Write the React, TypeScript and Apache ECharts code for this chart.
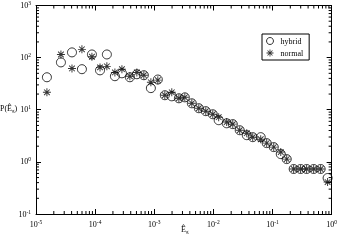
import React, { useEffect, useRef } from "react";
import * as echarts from "echarts";

const eg = [1.53e-5, 2.64e-5, 4.06e-5, 5.98e-5, 8.83e-5, 1.21e-4, 1.58e-4, 2.16e-4, 2.84e-4, 3.87e-4, 5.08e-4, 6.67e-4, 8.77e-4, 1.15e-3, 1.51e-3, 1.98e-3, 2.61e-3, 3.29e-3, 4.32e-3, 5.67e-3, 7.44e-3, 9.77e-3, 0.0123, 0.0168, 0.0213, 0.0279, 0.0367, 0.0463, 0.0632, 0.0798, 0.105, 0.138, 0.174, 0.228, 0.299, 0.378, 0.497, 0.652, 0.855];
const hybrid = [42, 81, 126, 60, 115, 57, 115, 44, 50, 42, 48, 46, 26, 38, 19, 18.1, 16.6, 17.3, 13.3, 10.7, 9.4, 8.2, 6.3, 5.5, 5.3, 4.05, 3.25, 2.98, 2.98, 2.29, 1.92, 1.41, 1.13, 0.73, 0.73, 0.73, 0.73, 0.73, 0.49];
const normal = [21.6, 115, 62, 144, 104, 65, 68, 52, 60, 44, 52, 46, 33.6, 37, 19, 21.6, 16.6, 17.3, 13.3, 10.7, 9.4, 8.2, 7.2, 5.8, 5.3, 4.05, 3.55, 2.98, 2.72, 2.29, 1.92, 1.54, 1.13, 0.73, 0.73, 0.73, 0.73, 0.73, 0.41];
const seriesNames = ["hybrid", "normal"];
const xDecades = [-5, -4, -3, -2, -1];
const yDecades = [-1, 0, 1, 2];
const minorMultipliers = [2, 3, 4, 5, 6, 7, 8, 9];

const STAR =
  "path://M-5 -0.6 H5 V0.6 H-5 Z M-0.6 -5 H0.6 V5 H-0.6 Z " +
  "M-3.12 -3.96 L3.96 3.12 L3.12 3.96 L-3.96 -3.12 Z " +
  "M-3.96 3.12 L3.12 -3.96 L3.96 -3.12 L-3.12 3.96 Z";

const FONT = "Liberation Serif";

function expLabel(v: number) {
  const e = Math.round(Math.log10(v));
  return `{b|10}{e|${e}}`;
}
const labelRich = {
  b: { fontFamily: FONT, fontSize: 8, color: "#000" },
  e: { fontFamily: FONT, fontSize: 5.5, color: "#000", padding: [0, 0, 5, 0] },
};

export default function App() {
  const ref = useRef<HTMLDivElement>(null);
  useEffect(() => {
    if (!ref.current) return;
    const chart = echarts.init(ref.current, null, { renderer: "svg" });
    const xMinor: number[][] = [];
    xDecades.forEach((d) => minorMultipliers.forEach((m) => xMinor.push([m * Math.pow(10, d), 1])));
    const yMinor: number[][] = [];
    yDecades.forEach((d) => minorMultipliers.forEach((m) => yMinor.push([1e-3, m * Math.pow(10, d)])));

    const axisLine = { lineStyle: { color: "#000", width: 1 } };
    const majorTick = { inside: true, length: 5, lineStyle: { color: "#000" } };

    chart.setOption({
      animation: false,
      grid: { left: 36, right: 8, top: 5, bottom: 27 },
      legend: {
        left: 262,
        top: 34,
        orient: "vertical",
        data: [
          { name: seriesNames[0], icon: "circle", itemStyle: { color: "rgba(0,0,0,0)", borderColor: "#000", borderWidth: 1 } },
          { name: seriesNames[1], icon: STAR, itemStyle: { color: "#000" } },
        ],
        itemWidth: 11,
        itemHeight: 7,
        itemGap: 4,
        padding: [3, 6, 3, 4],
        borderColor: "#000",
        borderWidth: 1,
        borderRadius: 0,
        backgroundColor: "#fff",
        textStyle: { fontFamily: FONT, fontSize: 8, color: "#000" },
      },
      xAxis: [
        {
          type: "log",
          logBase: 10,
          min: 1e-5,
          max: 1,
          axisLine,
          axisTick: majorTick,
          splitLine: { show: false },
          axisLabel: { formatter: expLabel, rich: labelRich, margin: 5 },
        },
        {
          type: "log",
          logBase: 10,
          min: 1e-5,
          max: 1,
          position: "top",
          axisLine,
          axisTick: majorTick,
          splitLine: { show: false },
          axisLabel: { show: false },
        },
      ],
      yAxis: [
        {
          type: "log",
          logBase: 10,
          min: 0.1,
          max: 1000,
          axisLine,
          axisTick: majorTick,
          splitLine: { show: false },
          axisLabel: { formatter: expLabel, rich: labelRich, margin: 5 },
        },
        {
          type: "log",
          logBase: 10,
          min: 0.1,
          max: 1000,
          position: "right",
          axisLine,
          axisTick: majorTick,
          splitLine: { show: false },
          axisLabel: { show: false },
        },
      ],
      graphic: [
        {
          type: "text",
          left: 181,
          top: 225,
          style: {
            text: "{a|Ê}{s|g}",
            rich: {
              a: { fontFamily: FONT, fontSize: 8, fill: "#000" },
              s: { fontFamily: FONT, fontSize: 5, fill: "#000", padding: [4, 0, 0, 0] },
            },
          },
        },
        {
          type: "text",
          left: 0,
          top: 104,
          style: {
            text: "{a|P(Ê}{s|g}{a|)}",
            rich: {
              a: { fontFamily: FONT, fontSize: 8, fill: "#000" },
              s: { fontFamily: FONT, fontSize: 5, fill: "#000", padding: [4, 0, 0, 0] },
            },
          },
        },
      ],
      series: [
        {
          name: "hybrid",
          type: "scatter",
          data: eg.map((x, i) => [x, hybrid[i]]),
          symbol: "circle",
          symbolSize: 9,
          itemStyle: { color: "rgba(0,0,0,0)", borderColor: "#000", borderWidth: 1 },
          z: 3,
        },
        {
          name: "normal",
          type: "scatter",
          data: eg.map((x, i) => [x, normal[i]]),
          symbol: STAR,
          symbolSize: 8,
          itemStyle: { color: "#000" },
          z: 4,
        },
        {
          type: "custom",
          silent: true,
          data: xMinor,
          renderItem: (params: any, api: any) => {
            const p = api.coord([api.value(0), api.value(1)]);
            const cs = params.coordSys;
            const b = cs.y + cs.height;
            return {
              type: "group",
              children: [
                { type: "line", shape: { x1: p[0], y1: b, x2: p[0], y2: b - 3 }, style: { stroke: "#000", lineWidth: 1 } },
                { type: "line", shape: { x1: p[0], y1: cs.y, x2: p[0], y2: cs.y + 3 }, style: { stroke: "#000", lineWidth: 1 } },
              ],
            };
          },
        },
        {
          type: "custom",
          silent: true,
          data: yMinor,
          renderItem: (params: any, api: any) => {
            const p = api.coord([api.value(0), api.value(1)]);
            const cs = params.coordSys;
            const r = cs.x + cs.width;
            return {
              type: "group",
              children: [
                { type: "line", shape: { x1: cs.x, y1: p[1], x2: cs.x + 3, y2: p[1] }, style: { stroke: "#000", lineWidth: 1 } },
                { type: "line", shape: { x1: r, y1: p[1], x2: r - 3, y2: p[1] }, style: { stroke: "#000", lineWidth: 1 } },
              ],
            };
          },
        },
      ],
    });
    return () => chart.dispose();
  }, []);
  return <div ref={ref} style={{ position: "fixed", left: 0, top: 0, width: 340, height: 241 }} />;
}
